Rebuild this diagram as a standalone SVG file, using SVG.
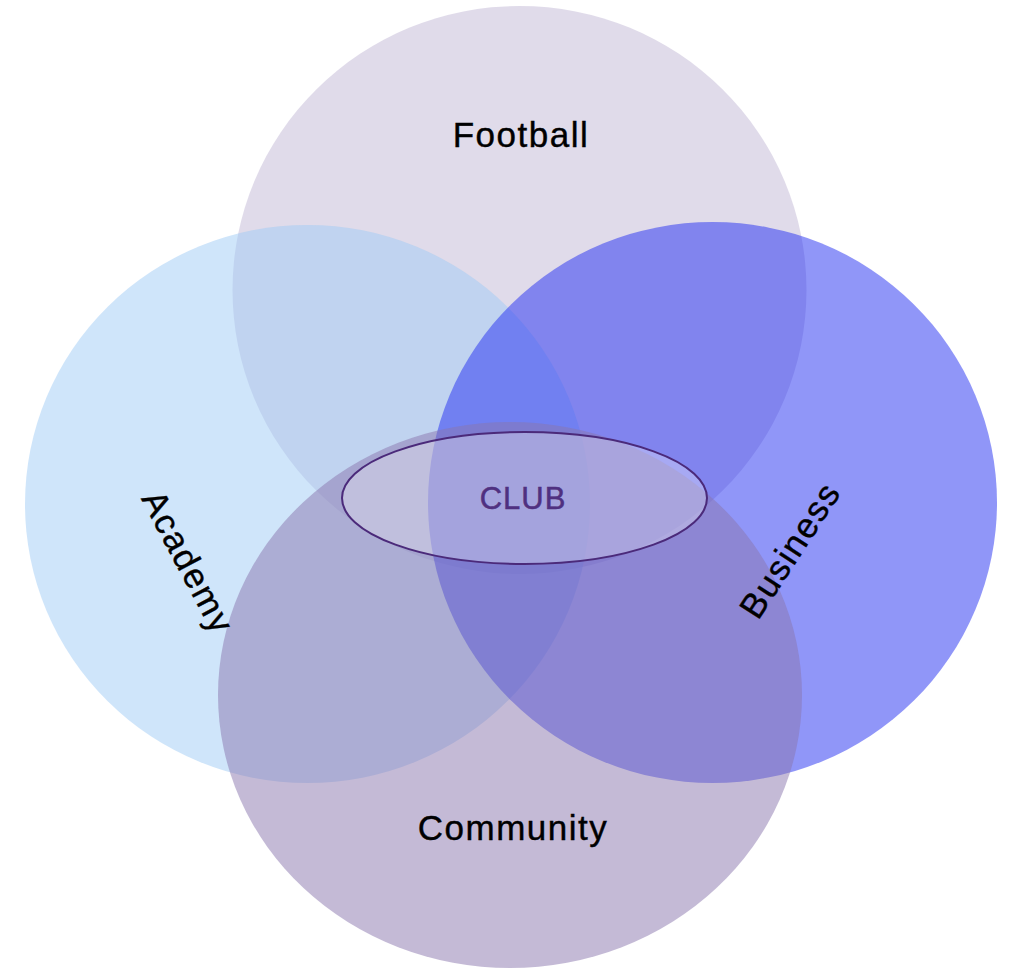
<svg xmlns="http://www.w3.org/2000/svg" width="1013" height="969" viewBox="0 0 1013 969">
<style>
.set{fill-opacity:0.5;stroke:none}
.lbl{font-family:"Liberation Sans",Arial,sans-serif;font-size:35px;fill:#000;letter-spacing:1.5px;text-anchor:middle;stroke:#000;stroke-width:0.4px}
.club{font-family:"Liberation Sans",Arial,sans-serif;font-size:31px;fill:#4f3080;letter-spacing:1px;text-anchor:middle;stroke:#4f3080;stroke-width:0.5px}
</style>
<rect width="1013" height="969" fill="#fff"/>
<g id="football"><ellipse class="set" cx="519.5" cy="290" rx="287" ry="284" fill="rgb(193,183,213)"/></g>
<g id="academy"><ellipse class="set" cx="307.5" cy="504" rx="282.5" ry="279" fill="rgb(159,203,245)"/></g>
<g id="business"><ellipse class="set" cx="712.5" cy="502.5" rx="284.5" ry="280.5" fill="rgb(33,45,241)"/></g>
<g id="community"><ellipse class="set" cx="510" cy="695" rx="292" ry="273" fill="rgb(137,117,173)"/></g>
<g id="club"><ellipse cx="524.5" cy="498" rx="182.5" ry="66" fill="#fff" fill-opacity="0.3" stroke="#4b2a7a" stroke-width="2"/>
<text class="club" x="523" y="509">CLUB</text></g>
<g id="labels">
<text class="lbl" x="521" y="147">Football</text>
<text class="lbl" x="513" y="840">Community</text>
<text class="lbl" transform="translate(188,562) rotate(62)" x="0" y="12">Academy</text>
<text class="lbl" transform="translate(790,550) rotate(-57)" x="0" y="12">Business</text>
</g>
<g id="connectors"/>
</svg>
